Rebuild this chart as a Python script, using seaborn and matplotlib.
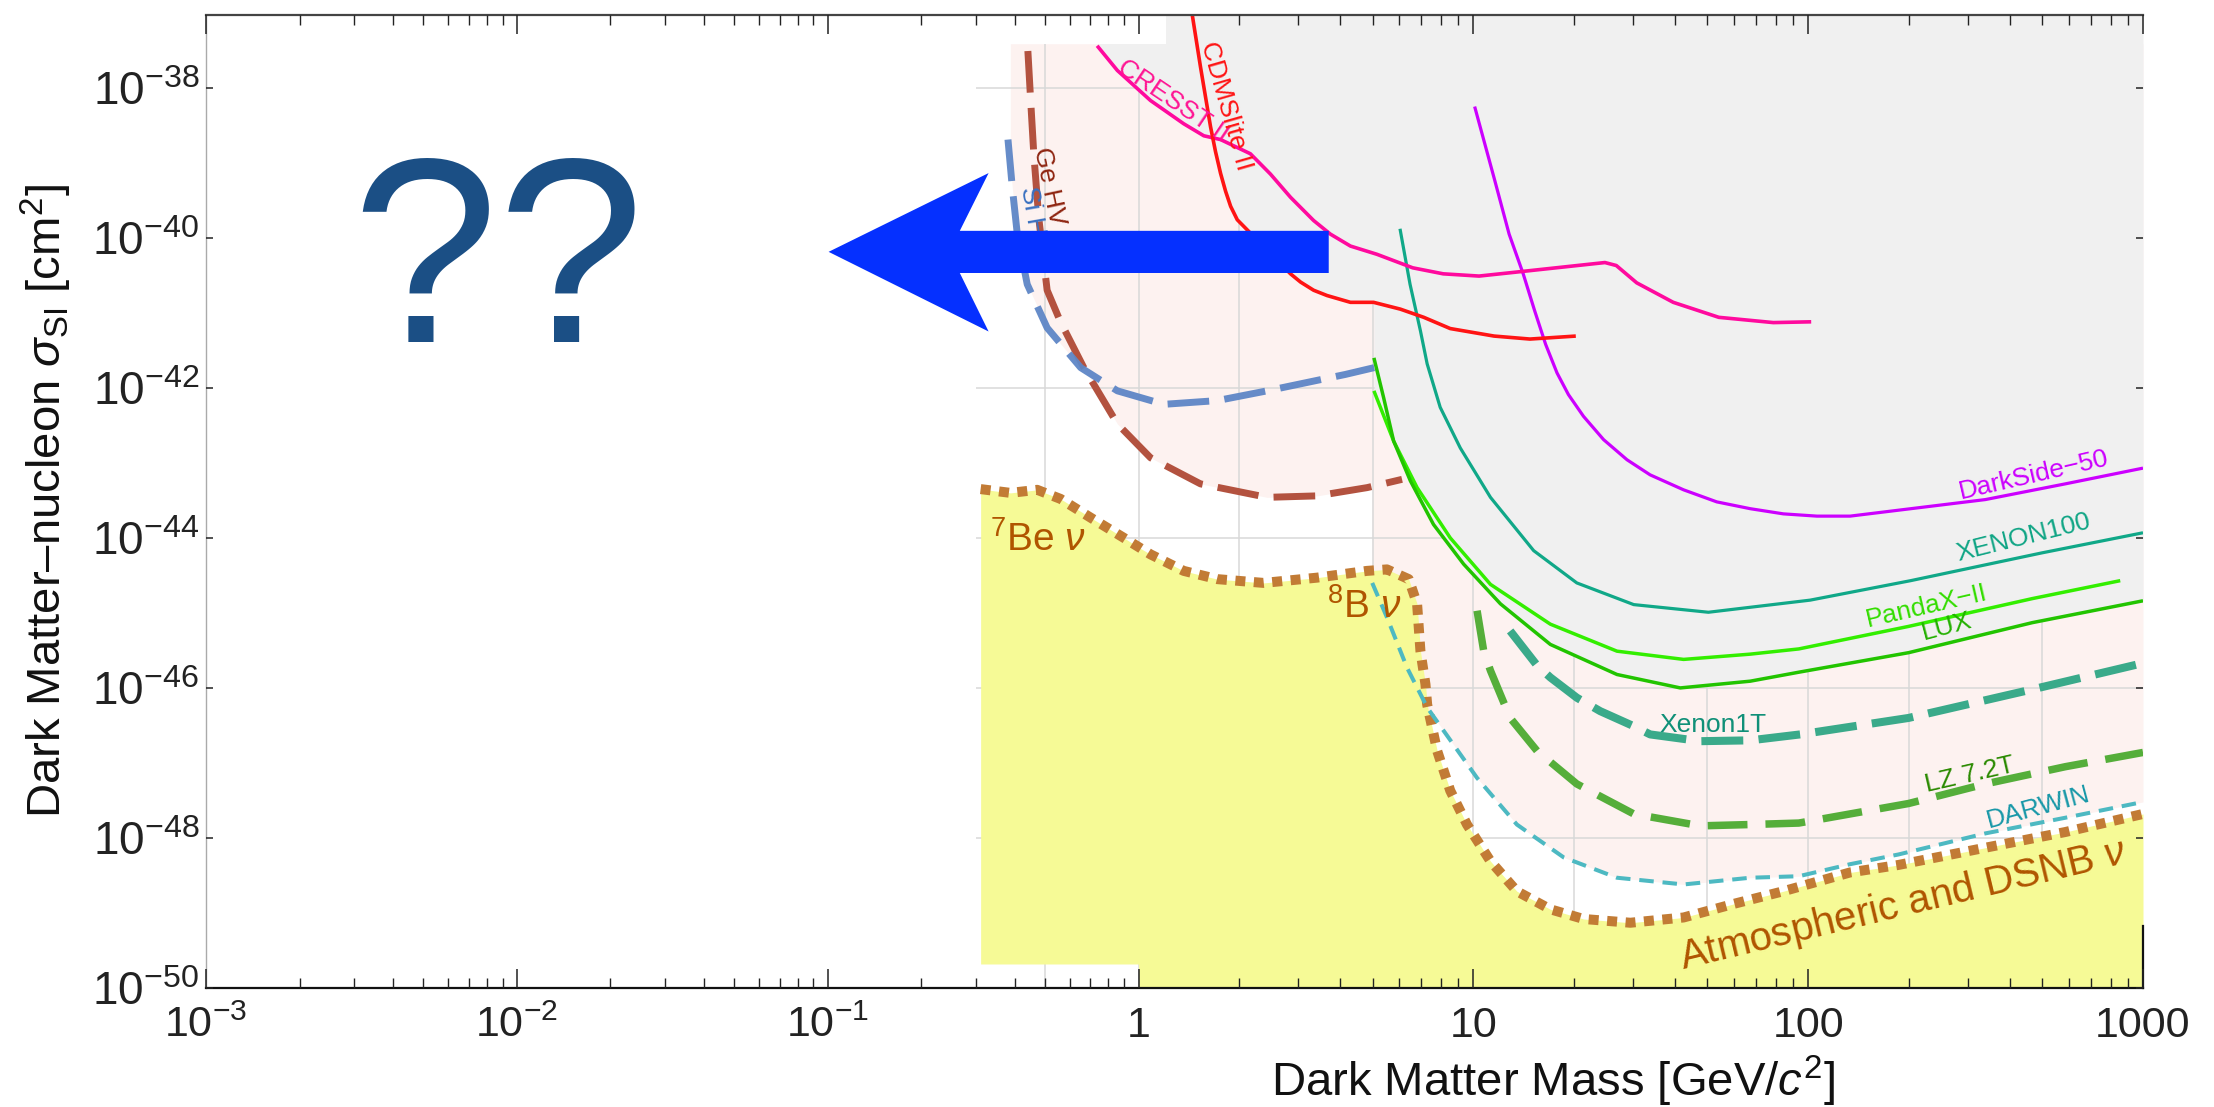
import numpy as np
import matplotlib
matplotlib.use("Agg")
import matplotlib.pyplot as plt
import seaborn as sns
from matplotlib.ticker import FixedLocator, FuncFormatter, NullFormatter
from matplotlib.patches import Polygon

# ---------------- data: mass [GeV/c^2], SI cross-section [cm^2] ----------------
cresst_mass = [0.736, 0.855, 1.086, 1.365, 1.567, 1.758, 2.158, 2.477, 2.844, 3.334, 3.741, 4.295,
               5.152, 6.592, 8.128, 10.40, 13.27, 24.72, 26.73, 30.76, 39.54, 54.08, 78.70, 102.1]
cresst_xsec = [3.63e-38, 1.70e-38, 6.76e-39, 3.31e-39, 2.29e-39, 2.04e-39, 1.32e-39, 7.08e-40, 3.47e-40,
               1.70e-40, 1.12e-40, 7.76e-41, 6.03e-41, 3.98e-41, 3.31e-41, 3.09e-41, 3.47e-41, 4.68e-41,
               4.27e-41, 2.51e-41, 1.38e-41, 8.71e-42, 7.41e-42, 7.59e-42]

cdmslite_mass = [1.445, 1.531, 1.585, 1.641, 1.698, 1.758, 1.820, 1.884, 1.972, 2.844, 3.048, 3.334,
                 3.656, 4.295, 5.035, 6.053, 7.112, 8.531, 11.53, 14.76, 20.23]
cdmslite_xsec = [9.77e-38, 1.91e-38, 7.59e-39, 3.02e-39, 1.41e-39, 7.24e-40, 4.17e-40, 2.63e-40, 1.74e-40,
                 3.31e-41, 2.57e-41, 2.00e-41, 1.70e-41, 1.38e-41, 1.38e-41, 1.12e-41, 8.71e-42, 6.17e-42,
                 4.90e-42, 4.47e-42, 4.90e-42]

darkside_mass = [10.09, 11.53, 12.79, 14.09, 15.24, 16.44, 17.78, 19.23, 21.33, 24.49, 28.77,
                 33.73, 42.46, 53.33, 67.14, 84.33, 106.2, 133.4, 186.2, 338.1, 586.1, 1000.0]
darkside_xsec = [5.62e-39, 6.31e-40, 1.12e-40, 3.31e-41, 1.07e-41, 3.80e-42, 1.58e-42, 8.13e-43,
                 4.17e-43, 2.04e-43, 1.10e-43, 6.92e-44, 4.37e-44, 3.02e-44, 2.45e-44, 2.09e-44, 1.95e-44,
                 1.95e-44, 2.34e-44, 3.24e-44, 5.25e-44, 8.51e-44]

xenon100_mass = [6.039, 6.471, 6.950, 7.278, 7.962, 9.141, 11.25, 15.14, 20.37, 30.13, 50.35, 101.4,
                 202.3, 498.9, 1000.0]
xenon100_xsec = [1.32e-40, 2.40e-41, 5.75e-42, 2.09e-42, 5.50e-43, 1.58e-43, 3.47e-44, 6.76e-45, 2.51e-45,
                 1.29e-45, 1.02e-45, 1.48e-45, 2.69e-45, 6.31e-45, 1.17e-44]

pandax_mass = [5.047, 5.781, 6.792, 8.531, 11.25, 16.98, 26.85, 42.46, 67.14, 93.76, 199.5, 466.7, 855.1]
pandax_xsec = [9.12e-43, 1.95e-43, 4.68e-44, 1.00e-44, 2.40e-45, 7.08e-46, 3.09e-46, 2.40e-46, 2.82e-46,
               3.31e-46, 6.61e-46, 1.55e-45, 2.69e-45]

lux_mass = [5.047, 5.395, 5.781, 6.486, 7.603, 9.354, 12.05, 16.98, 26.85, 41.50, 67.14, 93.76, 199.5,
            466.7, 1000.0]
lux_xsec = [2.51e-42, 7.41e-43, 1.95e-43, 5.75e-44, 1.51e-44, 4.47e-45, 1.32e-45, 3.80e-46, 1.51e-46,
            1.00e-46, 1.23e-46, 1.62e-46, 2.95e-46, 7.41e-46, 1.45e-45]

xenon1t_mass = [12.88, 15.49, 16.98, 20.37, 23.93, 30.13, 33.73, 47.64, 67.14, 94.62, 199.5, 466.7, 1000.0]
xenon1t_xsec = [5.75e-46, 2.00e-46, 1.38e-46, 7.41e-47, 4.90e-47, 3.09e-47, 2.40e-47, 1.95e-47, 2.00e-47,
                2.40e-47, 3.98e-47, 9.55e-47, 2.14e-46]

lz_mass = [10.26, 10.74, 11.25, 12.88, 15.49, 20.37, 30.13, 47.64, 67.14, 93.76, 199.5, 338.1, 586.1, 1000.0]
lz_xsec = [1.07e-45, 3.09e-46, 1.70e-46, 3.98e-47, 1.45e-47, 5.25e-48, 2.09e-48, 1.45e-48, 1.51e-48,
           1.58e-48, 2.88e-48, 5.25e-48, 8.91e-48, 1.38e-47]

darwin_mass = [4.989, 5.521, 6.339, 7.278, 7.603, 10.26, 13.49, 18.62, 26.85, 42.46, 67.14, 93.76, 133.4,
               186.2, 338.1, 586.1, 1000.0]
darwin_xsec = [2.51e-45, 8.71e-46, 1.86e-46, 5.50e-47, 4.17e-47, 6.31e-48, 1.51e-48, 5.50e-49, 2.95e-49,
               2.40e-49, 2.95e-49, 3.09e-49, 4.47e-49, 6.03e-49, 1.15e-48, 1.86e-48, 3.02e-48]

gehv_mass = [0.4406, 0.4498, 0.4603, 0.4775, 0.5082, 0.5610, 0.6668, 0.8551, 1.086, 1.531, 2.421, 3.412,
             4.819, 6.124]
gehv_xsec = [3.09e-38, 6.76e-39, 1.32e-39, 1.86e-40, 2.00e-41, 7.59e-42, 1.86e-42, 3.31e-43, 1.17e-43,
             5.25e-44, 3.47e-44, 3.63e-44, 4.68e-44, 6.03e-44]

sihv_mass = [0.3802, 0.3926, 0.4074, 0.4385, 0.5082, 0.6516, 0.8551, 1.191, 1.718, 2.421, 4.150, 5.058]
sihv_xsec = [2.04e-39, 4.68e-40, 1.12e-40, 2.40e-41, 6.31e-42, 1.86e-42, 9.12e-43, 6.03e-43, 6.76e-43,
             9.12e-43, 1.51e-42, 1.86e-42]

floor_mass = [0.3105, 0.3873, 0.4721, 0.5610, 0.7015, 0.8974, 1.086, 1.365, 1.718, 2.366, 3.412, 4.808,
              5.521, 6.412, 6.792, 6.950, 7.194, 7.278, 7.798, 8.531, 9.572, 11.25, 13.49, 16.98, 21.33,
              29.44, 42.46, 59.84, 84.33, 133.4, 186.2, 338.1, 586.1, 1000.0]
floor_xsec = [4.47e-44, 3.98e-44, 4.37e-44, 3.31e-44, 1.86e-44, 1.00e-44, 6.03e-45, 3.63e-45, 2.82e-45,
              2.51e-45, 2.95e-45, 3.63e-45, 3.80e-45, 2.82e-45, 1.32e-45, 3.09e-46, 1.12e-46, 6.03e-47,
              1.45e-47, 4.27e-48, 1.51e-48, 4.90e-49, 1.95e-49, 1.12e-49, 8.32e-50, 7.41e-50, 8.71e-50,
              1.32e-49, 1.95e-49, 3.47e-49, 4.37e-49, 7.41e-49, 1.20e-48, 2.09e-48]

x_tick_values = [1e-3, 1e-2, 1e-1, 1, 10, 100, 1000]
y_tick_exponents = [-50, -48, -46, -44, -42, -40, -38]
grid_x_values = [0.5, 1, 2, 5, 10, 20, 50, 100, 200, 500]
grid_y_values = [1e-48, 1e-46, 1e-44, 1e-42, 1e-40, 1e-38]

# ---------------- style / layout ----------------
sns.set_theme(style="white")
plt.rcParams["font.family"] = ["Liberation Sans", "DejaVu Sans"]
plt.rcParams["mathtext.fontset"] = "custom"
plt.rcParams["mathtext.rm"] = "Liberation Sans"
plt.rcParams["mathtext.it"] = "Liberation Sans:italic"
plt.rcParams["mathtext.bf"] = "Liberation Sans:bold"
plt.rcParams["mathtext.sf"] = "Liberation Sans"

FIG_W_PX, FIG_H_PX = 2214, 1107
AX_L, AX_R, AX_T, AX_B = 206, 2143, 15, 988
YLIM = (1e-50, 10 ** -37.03)
ORIG_TOP = 10 ** -37.413          # top of the shaded sensitivity band
LEFT_COMPRESS = 311.0 / 335.0      # the sub-GeV decades are drawn narrower

PINK, GRAY, YELLOW, GRIDC = "#FDF2F0", "#F0F0F0", "#F6FA96", "#D8D8D8"

fig = plt.figure(figsize=(FIG_W_PX / 100, FIG_H_PX / 100), dpi=100)
ax = fig.add_axes([AX_L / FIG_W_PX, 1 - AX_B / FIG_H_PX,
                   (AX_R - AX_L) / FIG_W_PX, (AX_B - AX_T) / FIG_H_PX])


def fwd(x):
    lx = np.log10(np.clip(np.asarray(x, dtype=float), 1e-300, None))
    return np.where(lx < 0, lx * LEFT_COMPRESS, lx)


def inv(u):
    u = np.asarray(u, dtype=float)
    return 10 ** np.where(u < 0, u / LEFT_COMPRESS, u)


ax.set_xscale("function", functions=(fwd, inv))
ax.set_yscale("log")
ax.set_xlim(1e-3, 1e3)
ax.set_ylim(*YLIM)


def log_interp(grid, mass, xsec):
    lm, ls = np.log10(mass), np.log10(xsec)
    out = np.interp(grid, lm, ls)
    out[(grid < lm[0]) | (grid > lm[-1])] = np.nan
    return out


# ---- excluded (gray) region above current limits ----
current = [(cresst_mass, cresst_xsec), (cdmslite_mass, cdmslite_xsec), (darkside_mass, darkside_xsec),
           (xenon100_mass, xenon100_xsec), (pandax_mass, pandax_xsec), (lux_mass, lux_xsec)]
g = np.linspace(np.log10(cresst_mass[0]), 3, 3000)
env = np.nanmin(np.vstack([log_interp(g, m, s) for m, s in current]), axis=0)
ax.fill_between(10 ** g, 10 ** env, YLIM[1], color=GRAY, lw=0, zorder=2)

# ---- projected sensitivity (pink) band ----
gp = np.linspace(np.log10(0.387), 3, 3000)
low_hv = np.nanmin(np.vstack([log_interp(gp, sihv_mass, sihv_xsec),
                              log_interp(gp, gehv_mass, gehv_xsec)]), axis=0)
low_dw = log_interp(gp, darwin_mass, darwin_xsec)
lower = np.where(gp < np.log10(darwin_mass[0]), low_hv, low_dw)
lower = np.where(np.isnan(lower), np.log10(sihv_xsec[0]), lower)
ax.fill_between(10 ** gp, 10 ** lower, ORIG_TOP, color=PINK, lw=0, zorder=1)

# ---- neutrino floor (yellow) ----
gy = np.linspace(np.log10(floor_mass[0]), 3, 3000)
fl = log_interp(gy, floor_mass, floor_xsec)
ybot = np.where(gy < 0, 10 ** -49.68, 1e-50)
ax.fill_between(10 ** gy, ybot, 10 ** fl, color=YELLOW, lw=0, zorder=2)

# white strip at the very top left
ax.fill_between([1e-3, 1.204], ORIG_TOP, YLIM[1], color="white", lw=0, zorder=2.05)

# grid (only inside the original 0.3-1000 GeV frame)
ax.vlines(grid_x_values, 1e-50, ORIG_TOP, colors=GRIDC, lw=1.1, zorder=1.5)
ax.hlines(grid_y_values, 0.3, 1000, colors=GRIDC, lw=1.1, zorder=1.5)


def draw(mass, xsec, color, lw, dashes=None, z=4, alpha=1.0):
    n0 = len(ax.lines)
    sns.lineplot(x=np.asarray(mass), y=np.asarray(xsec), ax=ax, color=color, lw=lw, sort=False,
                 estimator=None, legend=False, zorder=z, alpha=alpha)
    ln = ax.lines[n0]
    ln.set_solid_capstyle("butt")
    ln.set_solid_joinstyle("round")
    if dashes is not None:
        ln.set_dashes(dashes)
        ln.set_dash_capstyle("butt")
    return ln


draw(floor_mass, floor_xsec, "#C27B35", 7.2, dashes=(1.0, 0.85), z=3.5)
draw(darwin_mass, darwin_xsec, "#4DB9C2", 2.9, dashes=(3.6, 2.2), z=3.6)
draw(lz_mass, lz_xsec, "#55AE3A", 5.4, dashes=(5.3, 2.4), z=3.7)
draw(xenon1t_mass, xenon1t_xsec, "#3AAA8A", 5.8, dashes=(5.2, 1.9), z=3.7)
draw(gehv_mass, gehv_xsec, "#B3523F", 5.0, dashes=(6.0, 2.2), z=3.7)
draw(sihv_mass, sihv_xsec, "#5E86C6", 5.0, dashes=(6.0, 2.2), z=3.8, alpha=0.95)
draw(darkside_mass, darkside_xsec, "#CC00FF", 2.3, z=4)
draw(xenon100_mass, xenon100_xsec, "#10A888", 2.3, z=4)
draw(pandax_mass, pandax_xsec, "#33EE00", 2.5, z=4)
draw(lux_mass, lux_xsec, "#22C400", 2.5, z=4)
draw(cresst_mass, cresst_xsec, "#FF0A9E", 2.6, z=4)
draw(cdmslite_mass, cdmslite_xsec, "#FF1414", 2.6, z=4)

# ---- curve labels ----
labels = [
    ("CRESST II", 1.27, 10 ** -38.17, -34, "#FF1493", 19),
    ("CDMSlite II", 1.82, 10 ** -38.24, -74, "#FF1414", 19),
    ("Ge HV", 0.515, 10 ** -39.32, -78, "#8E2410", 19),
    ("Si HV", 0.4606, 10 ** -39.76, -80, "#3A70C0", 19),
    ("DarkSide\u221250", 473, 10 ** -43.155, 13, "#CC00FF", 19),
    ("XENON100", 440, 10 ** -44.0, 14, "#10A585", 19),
    ("PandaX\u2212II", 226.6, 10 ** -44.907, 13, "#33DD00", 19),
    ("LUX", 260, 10 ** -45.187, 15, "#22B000", 19),
    ("Xenon1T", 52, 10 ** -46.493, 0, "#109078", 19),
    ("LZ 7.2T", 304.6, 10 ** -47.155, 13, "#2A8A00", 19),
    ("DARWIN", 487, 10 ** -47.60, 15, "#1898A8", 19),
    ("Atmospheric and DSNB $\\nu$", 192, 10 ** -48.90, 13.5, "#B05500", 29),
]
for txt, xm, ys, rot, col, fs in labels:
    ax.text(xm, ys, txt, rotation=rot, rotation_mode="anchor", ha="center", va="center",
            color=col, fontsize=fs, zorder=5)

ax.text(0.334, 10 ** -44.17, "$^{7}$Be $\\nu$", color="#B05500", fontsize=28, ha="left",
        va="baseline", zorder=5)
ax.text(3.66, 10 ** -45.07, "$^{8}$B $\\nu$", color="#B05500", fontsize=28, ha="left",
        va="baseline", zorder=5)

# ---- big arrow and question marks ----
arrow_pts = [(0.1007, 10 ** -40.187), (0.3294, 10 ** -39.137), (0.2661, 10 ** -39.907),
             (3.699, 10 ** -39.907), (3.699, 10 ** -40.469), (0.2661, 10 ** -40.469),
             (0.3294, 10 ** -41.249)]
ax.add_patch(Polygon(arrow_pts, closed=True, facecolor="#0530FF", edgecolor="none", zorder=6))
ax.text(0.00872, 10 ** -41.387, "??", fontsize=190, color="#1B4F85", ha="center", va="baseline",
        zorder=6)

# ---- axes, ticks, labels ----
ax.xaxis.set_major_locator(FixedLocator(x_tick_values))
minor = [j * 10.0 ** k for k in range(-3, 3) for j in range(2, 10)]
ax.xaxis.set_minor_locator(FixedLocator(minor))
ax.xaxis.set_minor_formatter(NullFormatter())


def xfmt(v, pos):
    k = int(round(np.log10(v)))
    return r"$10^{%d}$" % k if k < 0 else "%d" % round(v)


ax.xaxis.set_major_formatter(FuncFormatter(xfmt))
ax.yaxis.set_major_locator(FixedLocator([10.0 ** e for e in y_tick_exponents]))
ax.yaxis.set_minor_locator(FixedLocator([]))
ax.yaxis.set_major_formatter(FuncFormatter(lambda v, p: r"$10^{%d}$" % int(round(np.log10(v)))))

ax.tick_params(axis="x", which="major", direction="in", length=14, width=1.1, top=True, bottom=True,
               labelsize=31, pad=13, colors="#222222")
ax.tick_params(axis="x", which="minor", direction="in", length=7, width=1.0, top=True, bottom=True,
               colors="#222222")
ax.tick_params(axis="y", which="major", direction="in", length=5, width=1.1, left=True, right=True,
               labelsize=33, pad=5, colors="#222222")
ax.xaxis.set_zorder(10)
ax.yaxis.set_zorder(10)

for name, sp in ax.spines.items():
    sp.set_zorder(10)
ax.spines["bottom"].set_color("#111111")
ax.spines["bottom"].set_linewidth(1.6)
ax.spines["top"].set_color("#444444")
ax.spines["top"].set_linewidth(1.6)
ax.spines["left"].set_color("#AAAAAA")
ax.spines["left"].set_linewidth(1.0)
ax.spines["right"].set_color("#111111")
ax.spines["right"].set_linewidth(1.6)
ax.spines["right"].set_bounds(1e-50, 10 ** -49.17)

ax.set_xlabel("Dark Matter Mass [GeV/$c^2$]", fontsize=34, color="#111111")
ax.set_ylabel("Dark Matter\u2013nucleon $\\sigma_{\\mathrm{SI}}$ [cm$^2$]", fontsize=34,
              color="#111111")
ax.xaxis.set_label_coords((1553 - AX_L) / (AX_R - AX_L), -0.068)
ax.yaxis.set_label_coords(-0.068, 0.5)
ax.set_facecolor("white")

fig.savefig("out.png", dpi=100)
